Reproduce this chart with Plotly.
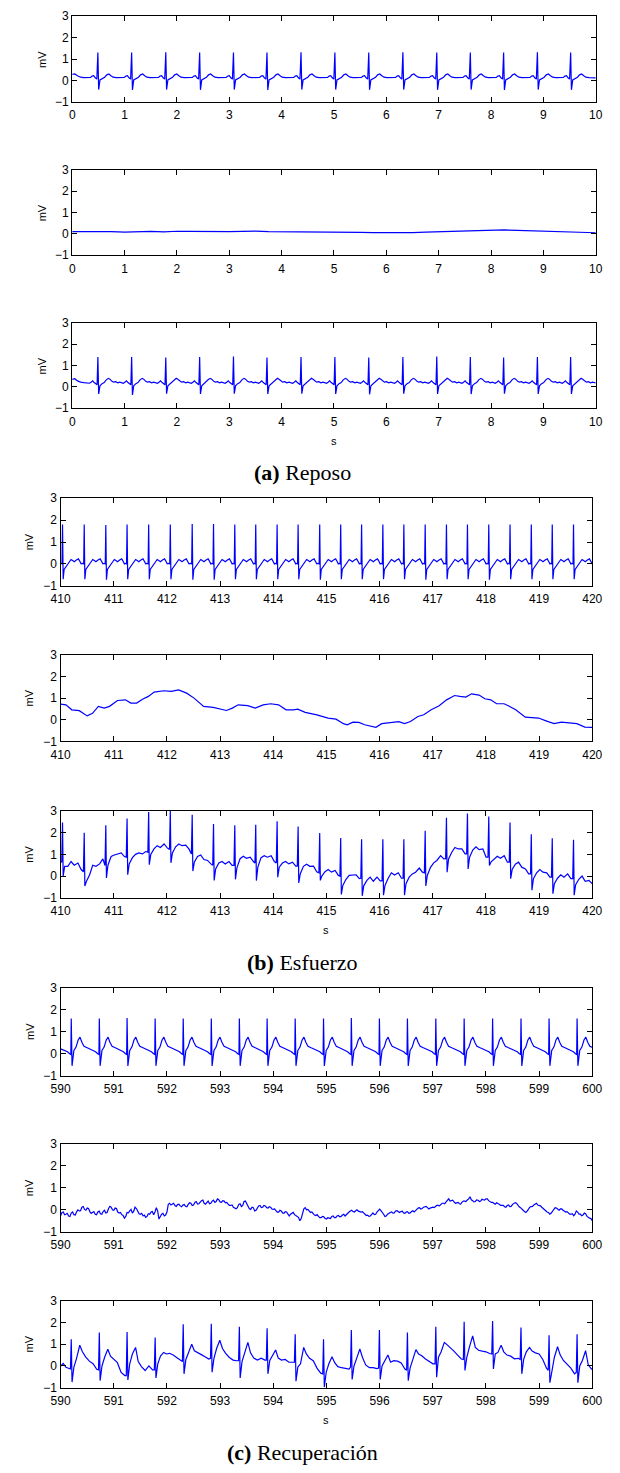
import plotly.graph_objects as go

# ====================== DATA ======================
# ---- (a) Reposo ----
a_beats = [0.49, 1.135, 1.787, 2.434, 3.08, 3.72, 4.37, 5.017, 5.664, 6.316,
           6.963, 7.604, 8.24, 8.885, 9.52]
a1_r = [1.3, 1.3, 1.32, 1.3, 1.3, 1.3, 1.32, 1.3, 1.3, 1.32, 1.3, 1.3, 1.3, 1.32, 1.3]
a1_s = [-0.43, -0.45, -0.43, -0.44, -0.43, -0.45, -0.43, -0.43, -0.44, -0.43,
        -0.44, -0.43, -0.45, -0.43, -0.44]
a1_pre_dt = [-0.20, -0.14, -0.11, -0.08, -0.05, -0.02]
a1_pre_v = [0.13, 0.14, 0.20, 0.22, 0.12, 0.06]
a1_post_dt = [0.04, 0.08, 0.13, 0.17, 0.21, 0.25, 0.29, 0.35, 0.42]
a1_post_v = [0.02, 0.08, 0.15, 0.26, 0.30, 0.22, 0.15, 0.13, 0.12]
a1_lead_t, a1_lead_v = [0.0, 0.05, 0.10, 0.16, 0.22], [0.28, 0.30, 0.22, 0.15, 0.13]
a1_tail_t, a1_tail_v = [10.0], [0.12]

a2_v = [0.10, 0.11, 0.09, 0.10, 0.08, 0.10, 0.11, 0.09, 0.12, 0.11,
        0.10, 0.12, 0.10, 0.11, 0.13, 0.10, 0.10, 0.09, 0.10, 0.08,
        0.10, 0.09, 0.07, 0.06, 0.05, 0.06, 0.06, 0.08, 0.10, 0.11,
        0.12, 0.13, 0.15, 0.18, 0.16, 0.14, 0.12, 0.10, 0.08, 0.07, 0.05]

a3_r = [1.4, 1.4, 1.38, 1.4, 1.42, 1.38, 1.4, 1.4, 1.38, 1.4, 1.42, 1.4, 1.38, 1.4, 1.4]
a3_s = [-0.33, -0.38, -0.32, -0.33, -0.32, -0.33, -0.32, -0.33, -0.35, -0.32,
        -0.33, -0.34, -0.32, -0.33, -0.33]
a3_pre_dt = [-0.20, -0.16, -0.13, -0.10, -0.07, -0.04, -0.015]
a3_pre_v = [0.20, 0.17, 0.22, 0.28, 0.20, 0.14, 0.10]
a3_post_dt = [0.04, 0.08, 0.12, 0.16, 0.20, 0.23, 0.27, 0.30, 0.34, 0.38, 0.42]
a3_post_v = [0.05, 0.15, 0.20, 0.33, 0.40, 0.36, 0.26, 0.22, 0.24, 0.19, 0.22]
a3_lead_t, a3_lead_v = [0.0, 0.05, 0.10, 0.16, 0.22], [0.35, 0.38, 0.28, 0.22, 0.20]
a3_tail_t, a3_tail_v = [10.0], [0.18]

# ---- (b) Esfuerzo ----
b_beats = [410.036, 410.444, 410.85, 411.25, 411.656, 412.063, 412.475, 412.876,
           413.276, 413.67, 414.072, 414.467, 414.873, 415.268, 415.661, 416.061,
           416.456, 416.857, 417.257, 417.652, 418.053, 418.453, 418.853, 419.247,
           419.647]
b1_r = [1.8, 1.8, 1.78, 1.8, 1.8, 1.8, 1.82, 1.82, 1.8, 1.8, 1.8, 1.8, 1.8,
        1.8, 1.8, 1.8, 1.8, 1.8, 1.8, 1.8, 1.8, 1.8, 1.8, 1.8, 1.8]
b1_s = [-0.7, -0.7, -0.72, -0.7, -0.7, -0.7, -0.72, -0.72, -0.7, -0.7, -0.7, -0.7,
        -0.72, -0.7, -0.7, -0.7, -0.7, -0.72, -0.7, -0.7, -0.72, -0.7, -0.7, -0.7, -0.7]
b1_pre_dt = [-0.03, -0.01]
b1_pre_v = [0.02, 0.0]
b1_post_dt = [0.03, 0.06, 0.09, 0.13, 0.16, 0.19, 0.22, 0.26, 0.30, 0.33, 0.35]
b1_post_v = [-0.25, -0.15, -0.05, 0.12, 0.20, 0.15, 0.10, 0.18, 0.23, 0.10, 0.0]
b1_lead_t, b1_lead_v = [410.0], [0.03]
b1_tail_t, b1_tail_v = [420.0], [0.0]

b2_t = [410.0, 410.1, 410.21, 410.35, 410.5, 410.6, 410.71, 410.82, 410.92, 411.07,
        411.22, 411.32, 411.43, 411.54, 411.65, 411.76, 411.94, 412.08, 412.22, 412.37,
        412.51, 412.69, 412.87, 413.02, 413.12, 413.23, 413.34, 413.52, 413.66, 413.81,
        413.95, 414.1, 414.24, 414.38, 414.46, 414.6, 414.82, 415.03, 415.18, 415.32,
        415.39, 415.5, 415.61, 415.72, 415.82, 415.93, 416.04, 416.18, 416.36, 416.47,
        416.58, 416.72, 416.83, 416.97, 417.12, 417.26, 417.41, 417.51, 417.62, 417.73,
        417.87, 417.98, 418.09, 418.2, 418.34, 418.42, 418.56, 418.74, 418.99, 419.13,
        419.28, 419.42, 419.57, 419.71, 419.86, 420.0]
b2_v = [0.72, 0.69, 0.46, 0.42, 0.18, 0.30, 0.62, 0.54, 0.62, 0.89,
        0.92, 0.77, 0.77, 0.95, 1.08, 1.28, 1.34, 1.31, 1.38, 1.23,
        1.00, 0.62, 0.57, 0.49, 0.43, 0.54, 0.69, 0.65, 0.54, 0.69,
        0.74, 0.69, 0.46, 0.46, 0.49, 0.34, 0.23, 0.08, 0.03, -0.18,
        -0.23, -0.11, -0.12, -0.23, -0.28, -0.35, -0.18, -0.15, -0.09, -0.18,
        -0.08, 0.15, 0.23, 0.46, 0.65, 0.92, 1.12, 1.08, 1.05, 1.20,
        1.14, 0.97, 0.92, 0.74, 0.74, 0.65, 0.46, 0.12, 0.08, -0.05,
        -0.18, -0.11, -0.15, -0.18, -0.34, -0.35]

b3_pre = [0.65, 0.2, 0.49, 0.87, 1.1, 1.22, 1.02, 0.5, 0.49, 0.6, 0.6, 0.46, 0.15,
          0.0, -0.1, -0.22, -0.1, 0.15, 0.8, 1.02, 0.87, 0.64, 0.1, -0.05, -0.12]
b3_r = [2.47, 2.0, 2.34, 2.65, 2.95, 3.0, 2.83, 2.4, 2.34, 2.37, 2.53, 2.28, 1.98,
        1.75, 1.7, 1.7, 1.7, 2.09, 2.69, 2.88, 2.74, 2.47, 1.93, 1.74, 1.67]
b3_s = [0.0, -0.46, -0.09, 0.06, 0.52, 0.61, 0.23, -0.2, -0.15, -0.21, -0.05, -0.32,
        -0.2, -0.85, -0.91, -0.88, -0.88, -0.46, 0.18, 0.33, 0.49, -0.12, -0.65, -0.81, -0.88]
b3_post_dt = [0.04, 0.10, 0.16, 0.22, 0.29, 0.35]
b3_post = [
    [0.45, 0.45, 0.67, 0.5, 0.6, 0.3],
    [-0.25, 0.05, 0.5, 0.45, 0.56, 0.79],
    [0.5, 0.9, 0.97, 1.0, 1.07, 0.9],
    [0.56, 0.85, 1.0, 1.07, 1.02, 1.13],
    [1.0, 1.25, 1.4, 1.32, 1.48, 1.3],
    [1.07, 1.35, 1.48, 1.4, 1.43, 1.25],
    [0.64, 0.9, 0.97, 0.76, 0.72, 0.56],
    [0.33, 0.6, 0.67, 0.56, 0.67, 0.49],
    [0.38, 0.8, 0.91, 0.82, 0.87, 0.67],
    [0.41, 0.85, 0.94, 0.87, 0.94, 0.67],
    [0.41, 0.6, 0.67, 0.56, 0.64, 0.46],
    [0.1, 0.45, 0.55, 0.45, 0.46, 0.2],
    [0.0, 0.2, 0.3, 0.18, 0.26, 0.03],
    [-0.43, -0.15, 0.03, 0.06, 0.06, -0.12],
    [-0.45, -0.2, -0.05, -0.24, -0.05, -0.22],
    [-0.43, -0.1, 0.15, 0.05, 0.15, -0.1],
    [-0.35, -0.05, 0.1, 0.18, 0.37, 0.18],
    [0.03, 0.4, 0.61, 0.72, 0.94, 0.79],
    [0.79, 1.1, 1.32, 1.25, 1.25, 1.02],
    [0.87, 1.2, 1.35, 1.22, 1.25, 0.87],
    [0.64, 0.8, 0.91, 0.82, 0.94, 0.64],
    [0.3, 0.55, 0.64, 0.41, 0.33, 0.1],
    [-0.12, 0.15, 0.3, 0.18, 0.15, -0.05],
    [-0.35, -0.1, 0.06, -0.05, 0.1, -0.12],
    [-0.4, -0.15, 0.0, -0.24, -0.2, -0.35],
]
b3_lead_t, b3_lead_v = [410.0], [0.64]

# ---- (c) Recuperación ----
c_beats = [590.2, 590.728, 591.25, 591.778, 592.306, 592.834, 593.362, 593.884,
           594.412, 594.945, 595.468, 595.996, 596.523, 597.057, 597.59, 598.125,
           598.659, 599.187, 599.714]
c1_r = [1.6, 1.6, 1.62, 1.6, 1.6, 1.6, 1.6, 1.6, 1.6, 1.6, 1.62, 1.6, 1.6, 1.6,
        1.6, 1.6, 1.6, 1.6, 1.6]
c1_s = [-0.55, -0.55, -0.56, -0.55, -0.55, -0.56, -0.55, -0.55, -0.55, -0.56,
        -0.55, -0.55, -0.56, -0.55, -0.55, -0.55, -0.56, -0.55, -0.55]
c1_pre_dt = [-0.12, -0.07, -0.03, -0.008]
c1_pre_v = [0.15, 0.09, 0.0, -0.03]
c1_post_dt = [0.05, 0.09, 0.13, 0.165, 0.20, 0.24, 0.30, 0.36]
c1_post_v = [0.15, 0.30, 0.62, 0.75, 0.52, 0.34, 0.27, 0.21]
c1_lead_t, c1_lead_v = [590.0, 590.04], [0.22, 0.18]

# c2: samples every 0.05 s from 590 s, plus the samples half-way between them
c2_v = [-0.27, -0.1, -0.2, -0.28, -0.15, -0.22, -0.1, -0.05, 0.12, 0.02,
        0.08, -0.08, -0.12, -0.2, -0.1, -0.18, -0.08, -0.14, 0.05, 0.12,
        -0.02, 0.06, -0.15, -0.22, -0.38, -0.12, -0.05, -0.15, 0.12, -0.05,
        -0.2, -0.28, -0.34, -0.18, -0.1, -0.22, 0.1, -0.42, -0.2, -0.28,
        -0.1, 0.3, 0.25, 0.2, 0.24, 0.18, 0.22, 0.16, 0.25, 0.3,
        0.22, 0.38, 0.28, 0.42, 0.3, 0.36, 0.28, 0.4, 0.34, 0.5,
        0.36, 0.42, 0.32, 0.26, 0.2, 0.12, 0.05, 0.25, 0.15, 0.38,
        0.3, 0.05, 0.12, -0.05, 0.08, 0.2, 0.12, 0.18, 0.08, 0.12,
        0.02, -0.04, -0.1, -0.05, -0.16, -0.1, -0.28, -0.15, -0.22, -0.3,
        -0.5, -0.2, 0.1, 0.02, -0.12, -0.18, -0.26, -0.3, -0.36, -0.32,
        -0.42, -0.38, -0.3, -0.36, -0.28, -0.32, -0.24, -0.28, -0.12, -0.05,
        -0.08, -0.04, -0.06, -0.1, -0.15, -0.26, -0.3, -0.18, -0.22, -0.1,
        0.03, -0.15, -0.3, -0.2, -0.12, -0.15, -0.05, -0.1, -0.08, -0.14,
        -0.1, -0.16, -0.08, -0.1, 0.02, 0.1, 0.06, 0.15, 0.1, 0.08,
        0.12, 0.15, 0.2, 0.24, 0.3, 0.36, 0.5, 0.42, 0.36, 0.32,
        0.28, 0.35, 0.4, 0.45, 0.6, 0.42, 0.38, 0.44, 0.4, 0.46,
        0.5, 0.42, 0.34, 0.28, 0.32, 0.26, 0.2, 0.14, 0.2, 0.15,
        0.25, 0.33, 0.2, 0.1, -0.02, -0.12, 0.05, 0.15, 0.22, 0.3,
        0.2, 0.12, 0.03, -0.1, -0.2, -0.05, 0.1, 0.02, 0.04, -0.02,
        -0.1, -0.14, -0.2, -0.27, -0.05, -0.2, -0.27, -0.15, -0.3, -0.38,
        -0.5]
c2_mid = [-0.12, -0.22, -0.16, -0.3, -0.1, -0.24, 0.0, -0.04, 0.15, -0.02,
          0.06, -0.16, -0.08, -0.22, -0.06, -0.2, -0.02, -0.12, 0.16, 0.0,
          0.08, -0.1, -0.12, -0.26, -0.3, -0.14, 0.02, -0.06, 0.06, -0.18,
          -0.16, -0.24, -0.3, -0.2, -0.08, -0.1, -0.05, -0.3, -0.16, -0.24,
          0.25, 0.22, 0.3, 0.16, 0.26, 0.14, 0.24, 0.14, 0.32, 0.2,
          0.34, 0.26, 0.36, 0.45, 0.26, 0.4, 0.3, 0.44, 0.38, 0.46,
          0.34, 0.4, 0.34, 0.2, 0.22, 0.1, 0.1, 0.28, 0.2, 0.4,
          0.2, 0.02, 0.1, -0.02, 0.18, 0.1, 0.2, 0.1, 0.14, 0.04,
          0.04, -0.1, -0.02, -0.14, -0.08, -0.22, -0.2, -0.12, -0.28, -0.35,
          -0.4, 0.05, 0.0, -0.08, -0.1, -0.24, -0.22, -0.36, -0.3, -0.4,
          -0.36, -0.4, -0.28, -0.36, -0.26, -0.3, -0.2, -0.22, -0.1, -0.02,
          -0.1, 0.0, -0.1, -0.08, -0.22, -0.24, -0.28, -0.14, -0.2, -0.02,
          -0.04, -0.2, -0.28, -0.14, -0.1, -0.14, -0.04, -0.12, -0.06, -0.16,
          -0.08, -0.14, -0.04, -0.06, 0.08, 0.04, 0.12, 0.16, 0.04, 0.12,
          0.1, 0.2, 0.18, 0.3, 0.28, 0.45, 0.4, 0.44, 0.3, 0.34,
          0.26, 0.4, 0.38, 0.5, 0.46, 0.36, 0.45, 0.38, 0.48, 0.44,
          0.5, 0.36, 0.34, 0.26, 0.3, 0.2, 0.2, 0.12, 0.22, 0.16,
          0.3, 0.3, 0.14, 0.06, -0.08, -0.06, 0.12, 0.16, 0.28, 0.22,
          0.18, 0.06, -0.02, -0.12, -0.16, 0.04, 0.08, -0.02, 0.04, -0.08,
          -0.08, -0.2, -0.18, -0.2, -0.1, -0.2, -0.24, -0.18, -0.36, -0.4]
c2_step = 0.05

c3_pre = [-0.14, -0.18, -0.44, -0.18, 0.21, 0.35, 0.24, 0.27, 0.17, -0.36,
          -0.05, -0.1, -0.2, 0.1, 0.3, 0.55, 0.3, -0.2, -0.3]
c3_r = [1.23, 1.53, 1.56, 1.3, 1.91, 1.94, 1.8, 1.73, 1.45, 1.23,
        1.65, 1.65, 1.53, 1.8, 2.03, 2.06, 1.76, 1.41, 1.45]
c3_s = [-0.74, -0.67, -0.64, -0.55, -0.36, -0.29, -0.55, -0.36, -0.7, -0.97,
        -0.62, -0.62, -0.67, -0.52, -0.21, -0.14, -0.36, -0.77, -0.77]
c3_post_dt = [0.05, 0.10, 0.16, 0.21, 0.27, 0.34, 0.41, 0.48]
c3_post = [
    [-0.05, 0.35, 0.95, 0.65, 0.42, 0.22, 0.1, -0.15],
    [0.0, 0.4, 0.77, 0.45, 0.3, 0.15, -0.3, -0.44],
    [0.1, 0.55, 0.85, 0.2, -0.03, -0.21, 0.0, -0.18],
    [0.1, 0.45, 0.62, 0.55, 0.58, 0.5, 0.38, 0.24],
    [0.3, 0.62, 1.0, 0.7, 0.6, 0.52, 0.42, 0.32],
    [0.35, 0.8, 1.18, 0.8, 0.58, 0.39, 0.27, 0.24],
    [0.2, 0.62, 1.08, 0.6, 0.36, 0.27, 0.36, 0.27],
    [0.25, 0.45, 0.73, 0.36, 0.27, 0.3, 0.17, 0.17],
    [-0.05, 0.1, 0.85, 0.55, 0.35, 0.24, -0.1, -0.33],
    [-0.29, 0.1, 0.42, 0.15, -0.03, -0.08, -0.12, -0.14],
    [0.0, 0.35, 0.78, 0.39, 0.05, -0.08, -0.08, -0.12],
    [0.0, 0.24, 0.5, 0.17, 0.24, 0.22, 0.14, -0.14],
    [-0.1, 0.32, 0.75, 0.55, 0.47, 0.32, 0.2, 0.1],
    [0.4, 0.65, 1.08, 0.98, 0.85, 0.68, 0.5, 0.32],
    [0.4, 0.88, 1.38, 0.85, 0.72, 0.68, 0.65, 0.57],
    [0.55, 0.62, 0.95, 0.65, 0.5, 0.45, 0.33, 0.35],
    [0.3, 0.65, 0.85, 0.68, 0.6, 0.55, 0.3, -0.1],
    [-0.29, 0.4, 0.88, 0.5, 0.25, 0.07, -0.1, -0.36],
    [0.0, 0.25, 0.7, 0.05, -0.14, -0.1, -0.1, -0.1],
]
c3_lead_t, c3_lead_v = [590.0, 590.05, 590.10, 590.15], [0.0, 0.12, -0.06, -0.12]

y_ticks = [-1, 0, 1, 2, 3]
y_ticktext = ["\u22121", "0", "1", "2", "3"]
x_ticks_a = list(range(0, 11))
x_ticks_b = list(range(410, 421))
x_ticks_c = list(range(590, 601))
captions = [("(a)", "Reposo"), ("(b)", "Esfuerzo"), ("(c)", "Recuperación")]


# ====================== BUILD ======================
def ecg(beats, r, s, s_dt, pre_dt, pre_v, post_dt, post_v,
        lead_t=(), lead_v=(), tail_t=(), tail_v=()):
    xs, ys = list(lead_t), list(lead_v)
    per_pre = isinstance(pre_v[0], list)
    per_post = isinstance(post_v[0], list)
    for i, bt in enumerate(beats):
        pv = pre_v[i] if per_pre else pre_v
        qv = post_v[i] if per_post else post_v
        for dt, v in zip(pre_dt, pv):
            xs.append(bt + dt); ys.append(v)
        xs.append(bt); ys.append(r[i])
        xs.append(bt + s_dt); ys.append(s[i])
        for dt, v in zip(post_dt, qv):
            xs.append(bt + dt); ys.append(v)
    xs += list(tail_t); ys += list(tail_v)
    return xs, ys


def interleave(t0, step, main, mid):
    xs, ys = [], []
    for k, v in enumerate(main):
        xs.append(t0 + step * k); ys.append(v)
        if k < len(mid):
            xs.append(t0 + step * (k + 0.5)); ys.append(mid[k])
    return xs, ys


series = []
series.append(ecg(a_beats, a1_r, a1_s, 0.015, a1_pre_dt, a1_pre_v, a1_post_dt, a1_post_v,
                  a1_lead_t, a1_lead_v, a1_tail_t, a1_tail_v))
series.append(([10.0 * k / (len(a2_v) - 1) for k in range(len(a2_v))], a2_v))
series.append(ecg(a_beats, a3_r, a3_s, 0.015, a3_pre_dt, a3_pre_v, a3_post_dt, a3_post_v,
                  a3_lead_t, a3_lead_v, a3_tail_t, a3_tail_v))
series.append(ecg(b_beats, b1_r, b1_s, 0.012, b1_pre_dt, b1_pre_v, b1_post_dt, b1_post_v,
                  b1_lead_t, b1_lead_v, b1_tail_t, b1_tail_v))
series.append((b2_t, b2_v))
series.append(ecg(b_beats, b3_r, b3_s, 0.012, [-0.015], [[v] for v in b3_pre],
                  b3_post_dt, b3_post, b3_lead_t, b3_lead_v))
series.append(ecg(c_beats, c1_r, c1_s, 0.015, c1_pre_dt, c1_pre_v, c1_post_dt, c1_post_v,
                  c1_lead_t, c1_lead_v))
series.append(interleave(590.0, c2_step, c2_v, c2_mid))
series.append(ecg(c_beats, c3_r, c3_s, 0.015, [-0.015], [[v] for v in c3_pre],
                  c3_post_dt, c3_post, c3_lead_t, c3_lead_v))

W, H = 620, 1473
# pixel boxes (top, bottom) of each panel, and (left, right) per group
panel_tb = [(9.3, 95.7), (164.2, 250.6), (319, 405),
            (496, 584.3), (654, 741.5), (811.7, 899.3),
            (990, 1079), (1148, 1236.5), (1306, 1394)]
group_lr = [(64.3, 605.3), (52.3, 601.7), (52.3, 601.7)]
group_x = [(0, 10, x_ticks_a), (410, 420, x_ticks_b), (590, 600, x_ticks_c)]
ylab_x = [33, 20, 20]

FONT = "Liberation Sans, Arial, sans-serif"
fig = go.Figure()
layout = dict(width=W, height=H, margin=dict(l=0, r=0, t=0, b=0),
              paper_bgcolor="white", plot_bgcolor="white", showlegend=False,
              font=dict(family=FONT, size=12, color="black"))
annotations = []
for i in range(9):
    g = i // 3
    top, bot = panel_tb[i]
    left, right = group_lr[g]
    x0, x1, xt = group_x[g]
    xs, ys = series[i]
    n = i + 1
    xa = "x" if n == 1 else f"x{n}"
    ya = "y" if n == 1 else f"y{n}"
    fig.add_trace(go.Scatter(x=xs, y=ys, mode="lines", xaxis=xa, yaxis=ya,
                             line=dict(color="rgb(0,0,255)", width=1.2),
                             hoverinfo="skip"))
    common = dict(showline=True, linecolor="black", linewidth=1.4, mirror="ticks",
                  ticks="inside", ticklen=5, tickwidth=1, tickcolor="black",
                  showgrid=False, zeroline=False,
                  tickfont=dict(family=FONT, size=12, color="black"))
    layout["xaxis" if n == 1 else f"xaxis{n}"] = dict(
        domain=[left / W, right / W], range=[x0, x1], anchor=ya,
        tickvals=xt, ticktext=[str(v) for v in xt], ticklabelstandoff=2, **common)
    layout["yaxis" if n == 1 else f"yaxis{n}"] = dict(
        domain=[1 - bot / H, 1 - top / H], range=[-1, 3], anchor=xa,
        tickvals=y_ticks, ticktext=y_ticktext, **common)
    annotations.append(dict(text="mV", x=ylab_x[g] / W, y=1 - (top + bot) / 2 / H,
                            xref="paper", yref="paper", showarrow=False, textangle=-90,
                            xanchor="center", yanchor="middle",
                            font=dict(family=FONT, size=11, color="black")))
    if i % 3 == 2:
        annotations.append(dict(text="s", x=(left + right) / 2 / W, y=1 - (bot + 33) / H,
                                xref="paper", yref="paper", showarrow=False,
                                xanchor="center", yanchor="middle",
                                font=dict(family=FONT, size=11, color="black")))
        lab, name = captions[g]
        annotations.append(dict(text=f"<b>{lab}</b> {name}", x=302 / W,
                                y=1 - (bot + 65) / H, xref="paper", yref="paper",
                                showarrow=False, xanchor="center", yanchor="middle",
                                font=dict(family="Liberation Serif, Times New Roman, serif",
                                          size=22, color="black")))
layout["annotations"] = annotations
fig.update_layout(**layout)
fig.write_html("out.html")
